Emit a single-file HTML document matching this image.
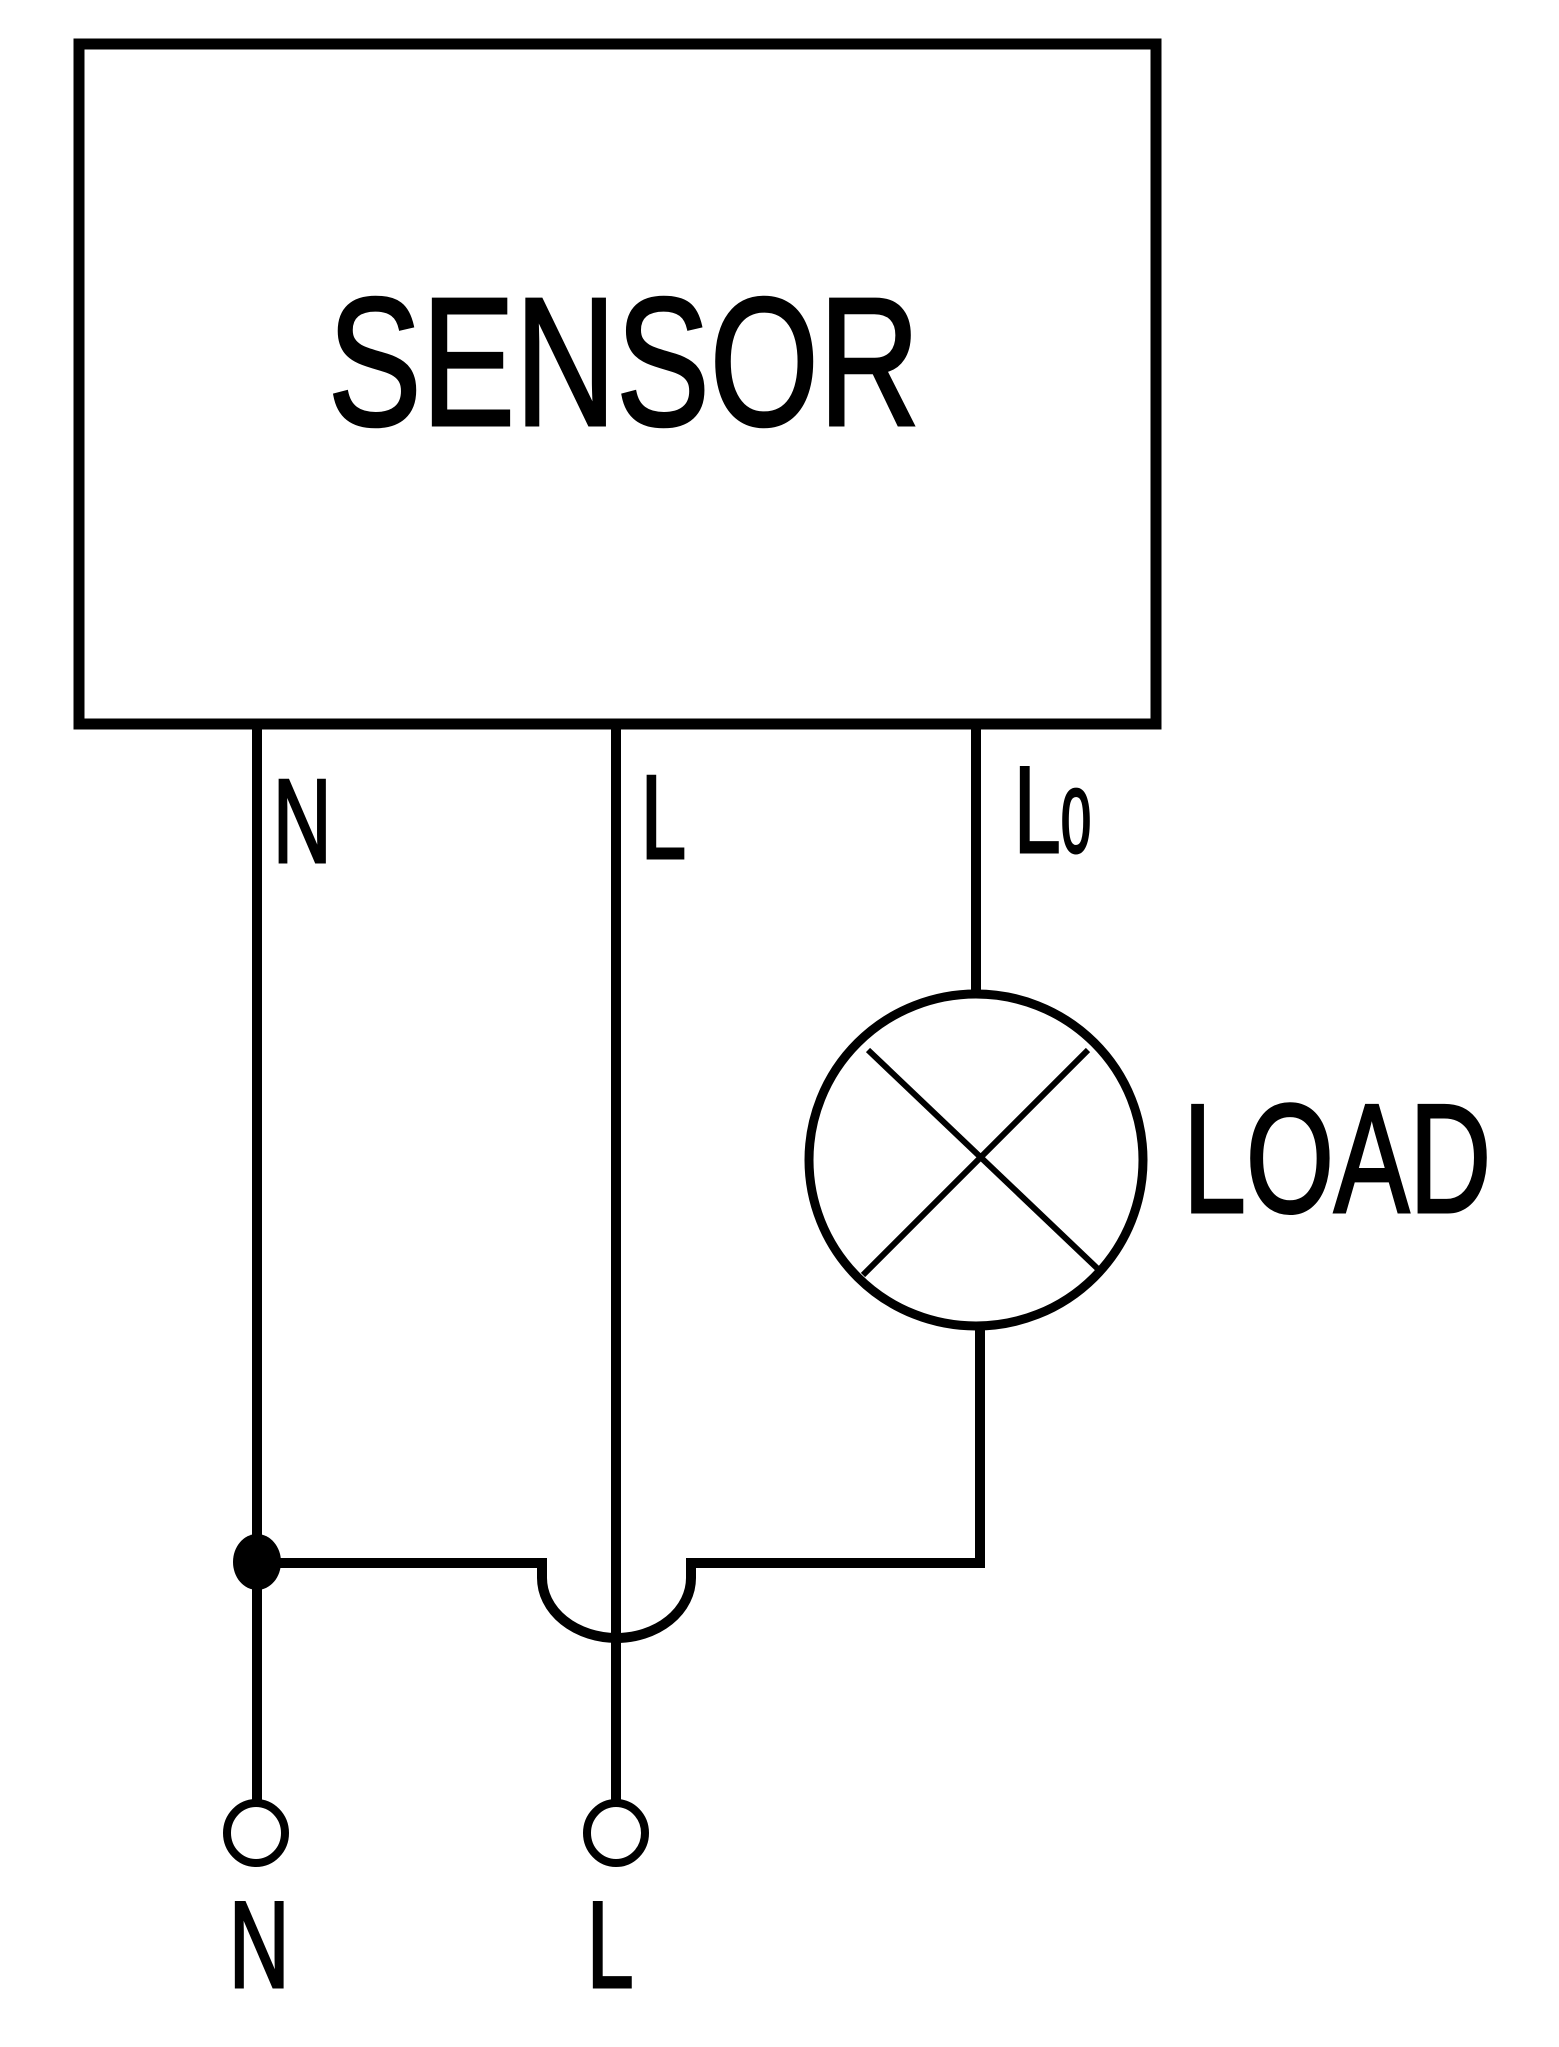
<!DOCTYPE html>
<html><head><meta charset="utf-8"><style>html,body{margin:0;padding:0;background:#fff}svg{display:block}</style></head>
<body>
<svg width="1559" height="2047" viewBox="0 0 1559 2047" xmlns="http://www.w3.org/2000/svg">
<rect width="1559" height="2047" fill="#fff"/>
<g fill="none" stroke="#000" stroke-linejoin="miter">
<rect x="79" y="44" width="1077" height="680" stroke-width="11"/>
<line x1="257" y1="724" x2="257" y2="1801" stroke-width="10"/>
<line x1="616" y1="724" x2="616" y2="1801" stroke-width="10"/>
<line x1="976" y1="724" x2="976" y2="994" stroke-width="10"/>
<ellipse cx="976" cy="1160" rx="167" ry="166" stroke-width="9"/>
<line x1="868" y1="1050" x2="1098" y2="1269" stroke-width="6"/>
<line x1="1088" y1="1050" x2="863" y2="1275" stroke-width="6"/>
<path d="M257 1563 H542 V1578 A74.5 60 0 0 0 691 1578 V1563 H980 V1326" stroke-width="10"/>
<ellipse cx="256" cy="1833" rx="29" ry="30" stroke-width="8"/>
<ellipse cx="616" cy="1833" rx="29" ry="30" stroke-width="8"/>
</g>
<ellipse cx="257" cy="1562" rx="24" ry="28" fill="#000"/>
<g font-family="Liberation Sans, Arial, sans-serif" fill="#000" stroke="#000" stroke-width="3">
<text transform="translate(328 425) scale(0.766 1)" font-size="183">SENSOR</text>
<text transform="translate(1183 1212) scale(0.73 1)" font-size="155">LOAD</text>
<text transform="translate(273 862) scale(0.68 1)" font-size="119">N</text>
<text transform="translate(641 858) scale(0.68 1)" font-size="119">L</text>
<text transform="translate(1014 852) scale(0.68 1)" font-size="123">L</text>
<text transform="translate(1061 852) scale(0.6 1)" font-size="90">0</text>
<text transform="translate(229 1987) scale(0.68 1)" font-size="123">N</text>
<text transform="translate(587 1987) scale(0.68 1)" font-size="123">L</text>
</g>
</svg>
</body></html>
